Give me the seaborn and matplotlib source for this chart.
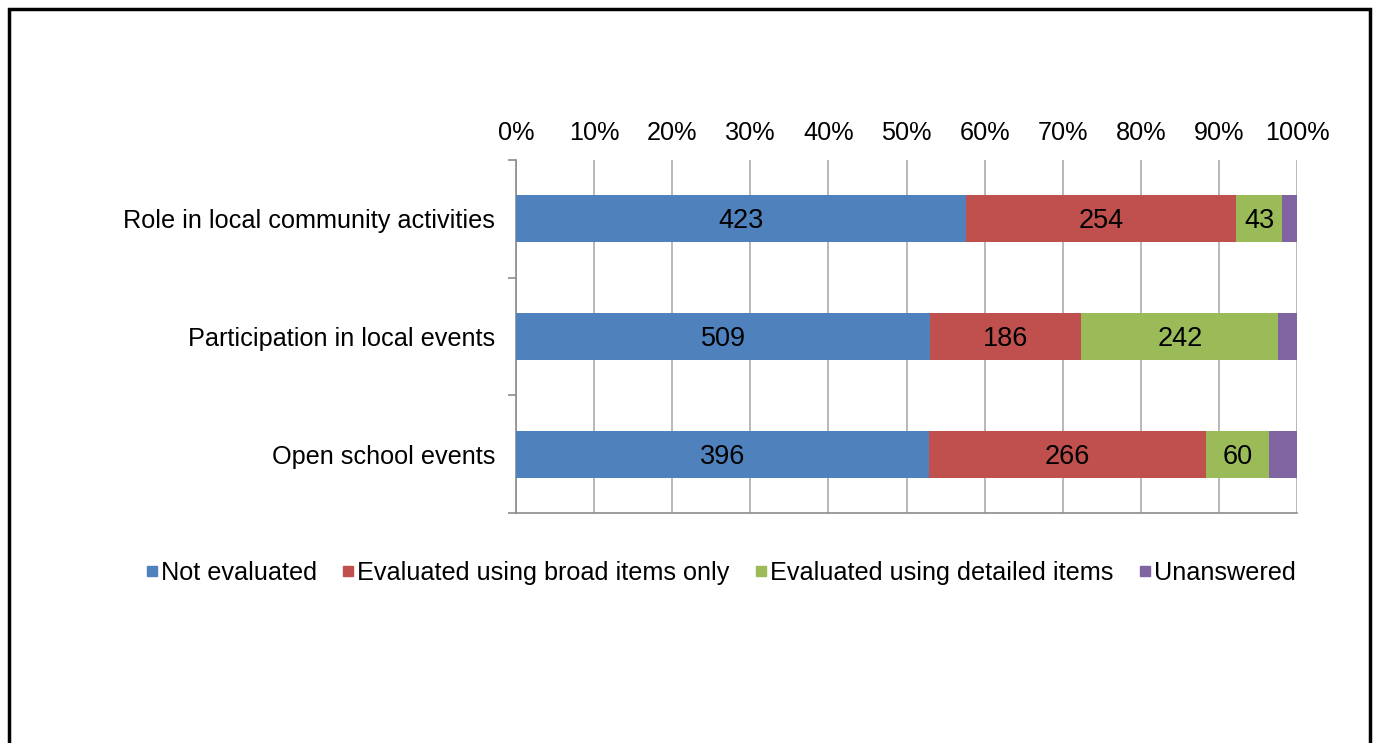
import matplotlib
matplotlib.use("Agg")
import matplotlib.pyplot as plt
import seaborn as sns
import pandas as pd
import numpy as np
from matplotlib.lines import Line2D
from matplotlib.patches import Rectangle

categories = ["Role in local community activities", "Participation in local events", "Open school events"]
series_names = ["Not evaluated", "Evaluated using broad items only", "Evaluated using detailed items", "Unanswered"]
not_evaluated = [423, 509, 396]
broad_only = [254, 186, 266]
detailed = [43, 242, 60]
unanswered = [14, 23, 27]
colors = ["#4F81BD", "#C0504D", "#9BBB59", "#8064A2"]
tick_labels = ["0%", "10%", "20%", "30%", "40%", "50%", "60%", "70%", "80%", "90%", "100%"]

sns.set_theme(style="white")
plt.rcParams['font.family'] = ['Liberation Sans', 'DejaVu Sans']
plt.rcParams['text.color'] = 'black'

FS = 18.2

vals = np.array([not_evaluated, broad_only, detailed, unanswered], dtype=float)
totals = vals.sum(axis=0)
pct = vals / totals * 100
cum = np.cumsum(pct, axis=0)

fig = plt.figure(figsize=(13.78, 7.43), dpi=100)
ax = fig.add_axes([516/1378, 1-513/743, (1297-516)/1378, (513-160)/743])

# draw cumulative bars from largest to smallest (stacked look)
for i in range(3, -1, -1):
    df = pd.DataFrame({"cat": categories, "val": cum[i]})
    sns.barplot(data=df, y="cat", x="val", orient="h", color=colors[i],
                saturation=1, width=0.4, ax=ax, edgecolor="none", linewidth=0, zorder=3)

# data labels (not for unanswered)
for i in range(3):
    for j in range(3):
        start = cum[i][j] - pct[i][j]
        ax.text(start + pct[i][j] / 2, j + 0.02, str(int(vals[i][j])), ha="center", va="center",
                fontsize=19.5, color="black", zorder=5)

ax.set_xlim(0, 100)
ax.set_ylim(2.5, -0.5)
ax.set_xticks(np.arange(0, 101, 10))
ax.set_xticklabels(tick_labels)
ax.xaxis.tick_top()
ax.tick_params(axis="x", which="major", top=False, bottom=False, labelsize=FS, pad=5, colors="black")
ax.tick_params(axis="y", labelsize=FS, pad=15, colors="black")
ax.set_xlabel("")
ax.set_ylabel("")
ax.grid(axis="x", color="#ABABAB", linewidth=1.2, zorder=0)
ax.set_axisbelow(True)

for s in ["top", "right"]:
    ax.spines[s].set_visible(False)
for s in ["left", "bottom"]:
    ax.spines[s].set_visible(True)
    ax.spines[s].set_color("#8C8C8C")
    ax.spines[s].set_linewidth(1.2)

# category boundary ticks on left, gridline ticks on bottom
ax.set_yticks([0, 1, 2])
ax.set_yticklabels(categories)
ax.set_yticks([-0.5, 0.5, 1.5, 2.5], minor=True)
ax.tick_params(axis="y", which="major", left=False, length=0)
ax.tick_params(axis="y", which="minor", left=True, length=6, width=1.2, color="#8C8C8C", direction="out")
ax.set_xticks(np.arange(0, 101, 10), minor=True)
ax.tick_params(axis="x", which="minor", bottom=True, top=False, length=6, width=1.2, color="#8C8C8C", direction="out")

handles = [Line2D([0], [0], marker="s", linestyle="none", markersize=7, markerfacecolor=c,
                  markeredgecolor=c) for c in colors]
leg = fig.legend(handles, series_names, loc="center", bbox_to_anchor=(720/1378, 1-573/743), ncol=4,
                 frameon=False, fontsize=FS, handletextpad=0.05, columnspacing=0.95, handlelength=0.6)
for t in leg.get_texts():
    t.set_color("black")

# outer border
fig.patches.append(Rectangle((9/1378, -0.1), (1370-9)/1378, 1.1 - 9/743, transform=fig.transFigure,
                             fill=False, edgecolor="black", linewidth=2.5, zorder=10))

fig.savefig("out.png", dpi=100)
